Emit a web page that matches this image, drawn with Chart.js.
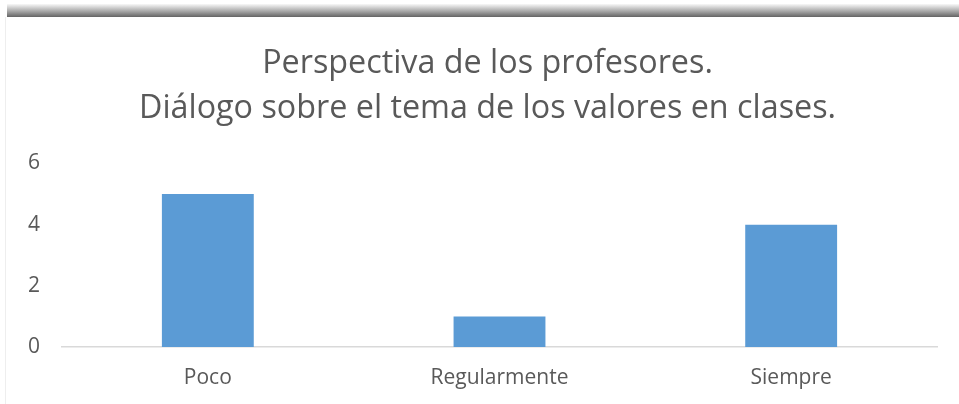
<!DOCTYPE html>
<html>
<head>
<meta charset="utf-8">
<script src="https://cdn.jsdelivr.net/npm/chart.js@4"></script>
<style>
  html, body { margin: 0; padding: 0; background: #fff; }
  #wrap { position: relative; width: 959px; height: 404px; overflow: hidden; }
  #shadow-top { position: absolute; left: 7px; right: 0; top: 4px; height: 13px;
    background: linear-gradient(to bottom, rgba(120,120,120,0.05), rgba(110,110,110,0.6) 55%, rgba(100,100,100,1)); }
  #edge-left { position: absolute; left: 5px; top: 17px; bottom: 0; width: 1px; background: #eeeeee; }
  #c { position: absolute; left: 0; top: 0; }
</style>
</head>
<body>
<div id="wrap">
  <div id="shadow-top"></div>
  <div id="edge-left"></div>
  <canvas id="c" width="959" height="404"></canvas>
</div>
<script>
const categories = ["Poco", "Regularmente", "Siempre"];
const values = [5, 1, 4];
const title_lines = ["Perspectiva de los profesores.", "Diálogo sobre el tema de los valores en clases."];

const text_color = "#595959";
const bar_color = "#5B9BD5";

// left padding 16 + empty right axis keeps the title centred at x=487 like the original
new Chart(document.getElementById("c"), {
  type: "bar",
  data: {
    labels: categories,
    datasets: [{
      data: values,
      backgroundColor: bar_color,
      borderWidth: 0,
      categoryPercentage: 1,
      barPercentage: 0.315
    }]
  },
  options: {
    responsive: false,
    animation: false,
    layout: {
      padding: { left: 16, right: 0, top: 0, bottom: 0 }
    },
    plugins: {
      legend: { display: false },
      tooltip: { enabled: false },
      title: {
        display: true,
        text: title_lines,
        color: text_color,
        font: { family: "Open Sans", size: 32.3, weight: "normal", lineHeight: 1.4 },
        padding: { top: 41, bottom: 32 }
      }
    },
    scales: {
      x: {
        grid: { display: false, drawTicks: false },
        border: { display: true, color: "#d9d9d9", width: 1.5 },
        ticks: {
          color: text_color,
          font: { family: "Open Sans", size: 21 },
          padding: 18
        },
        afterFit: function (scale) {
          scale.height = 57;
        }
      },
      y: {
        min: 0,
        max: 6,
        grid: { display: false, drawTicks: false },
        border: { display: false },
        ticks: {
          stepSize: 2,
          color: text_color,
          font: { family: "Open Sans", size: 21 },
          padding: 22
        },
        afterFit: function (scale) {
          scale.width = 46;
        }
      },
      spacer: {
        type: "linear",
        position: "right",
        grid: { display: false, drawTicks: false },
        border: { display: false },
        ticks: { display: false },
        afterFit: function (scale) {
          scale.width = 22;
        }
      }
    }
  }
});
</script>
</body>
</html>
